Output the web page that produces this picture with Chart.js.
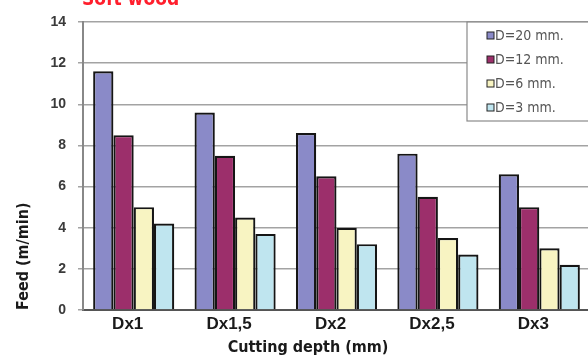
<!DOCTYPE html>
<html>
<head>
<meta charset="utf-8">
<script src="https://cdn.jsdelivr.net/npm/chart.js@4/dist/chart.umd.min.js"></script>
<style>
html,body{margin:0;padding:0;background:#fff;overflow:hidden;width:588px;height:359px;}
#wrap{position:absolute;left:0;top:0;width:600px;height:359px;}
</style>
</head>
<body>
<div id="wrap"><canvas id="c" width="600" height="359"></canvas></div>
<script>
const chartTitle = "Soft wood";
const xTitle = "Cutting depth (mm)";
const yTitle = "Feed (m/min)";
const categories = ["Dx1", "Dx1,5", "Dx2", "Dx2,5", "Dx3"];
const seriesNames = ["D=20 mm.", "D=12 mm.", "D=6 mm.", "D=3 mm."];
const d20 = [11.6, 9.6, 8.6, 7.6, 6.6];
const d12 = [8.5, 7.5, 6.5, 5.5, 5.0];
const d6 = [5.0, 4.5, 4.0, 3.5, 3.0];
const d3 = [4.2, 3.7, 3.2, 2.7, 2.2];
const colors = ["#8a8ac8", "#9c2f6b", "#f8f4c2", "#bfe5ef"];

const seriesValues = [d20, d12, d6, d3];

const overlay = {
  id: 'overlay',
  afterDraw(chart) {
    const ctx = chart.ctx;
    const ca = chart.chartArea;
    ctx.save();
    // chart title (cut off at top)
    ctx.fillStyle = '#ff1f2d';
    ctx.font = 'bold 19px "DejaVu Sans Condensed", "DejaVu Sans"';
    ctx.textAlign = 'left';
    ctx.textBaseline = 'alphabetic';
    ctx.fillText(chartTitle, 82, 5);
    // x title
    ctx.fillStyle = '#1a1a1a';
    ctx.font = 'bold 16px "DejaVu Sans Condensed", "DejaVu Sans"';
    ctx.textAlign = 'center';
    ctx.textBaseline = 'middle';
    ctx.fillText(xTitle, 308, 348);
    // y title
    ctx.save();
    ctx.translate(24, ca.bottom);
    ctx.rotate(-Math.PI / 2);
    ctx.textAlign = 'left';
    ctx.fillText(yTitle, 0, 0);
    ctx.restore();
    // legend
    const lx = 467, ly = ca.top, lw = 140, lh = 99;
    ctx.fillStyle = '#ffffff';
    ctx.fillRect(lx, ly, lw, lh);
    ctx.strokeStyle = '#8a8a8a';
    ctx.lineWidth = 1.2;
    ctx.strokeRect(lx, ly, lw, lh);
    ctx.font = '14px "DejaVu Sans Condensed", "Liberation Sans"';
    ctx.textAlign = 'left';
    ctx.textBaseline = 'middle';
    chart.data.datasets.forEach((ds, i) => {
      const cy = ly + 13.5 + i * 24;
      ctx.fillStyle = ds.backgroundColor;
      ctx.fillRect(487, cy - 3.5, 7, 7);
      ctx.strokeStyle = '#222';
      ctx.lineWidth = 1;
      ctx.strokeRect(487, cy - 3.5, 7, 7);
      ctx.fillStyle = '#555';
      ctx.fillText(ds.label, 495, cy + 0.5);
    });
    ctx.restore();
  }
};

new Chart(document.getElementById('c'), {
  type: 'bar',
  data: {
    labels: categories,
    datasets: seriesNames.map((n, i) => ({
      label: n,
      data: seriesValues[i],
      backgroundColor: colors[i],
      borderColor: '#151515',
      borderWidth: 2.2,
      borderSkipped: 'bottom',
      categoryPercentage: 0.8,
      barPercentage: 1.0
    }))
  },
  options: {
    responsive: false,
    animation: false,
    devicePixelRatio: 1,
    layout: { padding: { top: 22, right: 10, left: 0, bottom: 0 } },
    plugins: { legend: { display: false }, tooltip: { enabled: false }, title: { display: false } },
    scales: {
      x: {
        grid: { display: false, drawTicks: false },
        border: { display: true, color: '#555', width: 2 },
        ticks: {
          color: '#1a1a1a',
          font: { family: 'Liberation Sans', weight: 'bold', size: 17 },
          padding: 4,
          labelOffset: -6
        },
        afterFit(s) { s.height = 49; }
      },
      y: {
        min: 0, max: 14,
        grid: { color: '#a3a3a3', lineWidth: 1.5, tickLength: 5, drawTicks: true },
        border: { display: true, color: '#888', width: 2 },
        ticks: {
          stepSize: 2,
          color: '#3a3a3a',
          font: { family: 'Liberation Sans', weight: 'bold', size: 14 },
          padding: 12
        },
        afterFit(s) { s.width = 83; }
      }
    }
  },
  plugins: [overlay]
});
</script>
</body>
</html>
